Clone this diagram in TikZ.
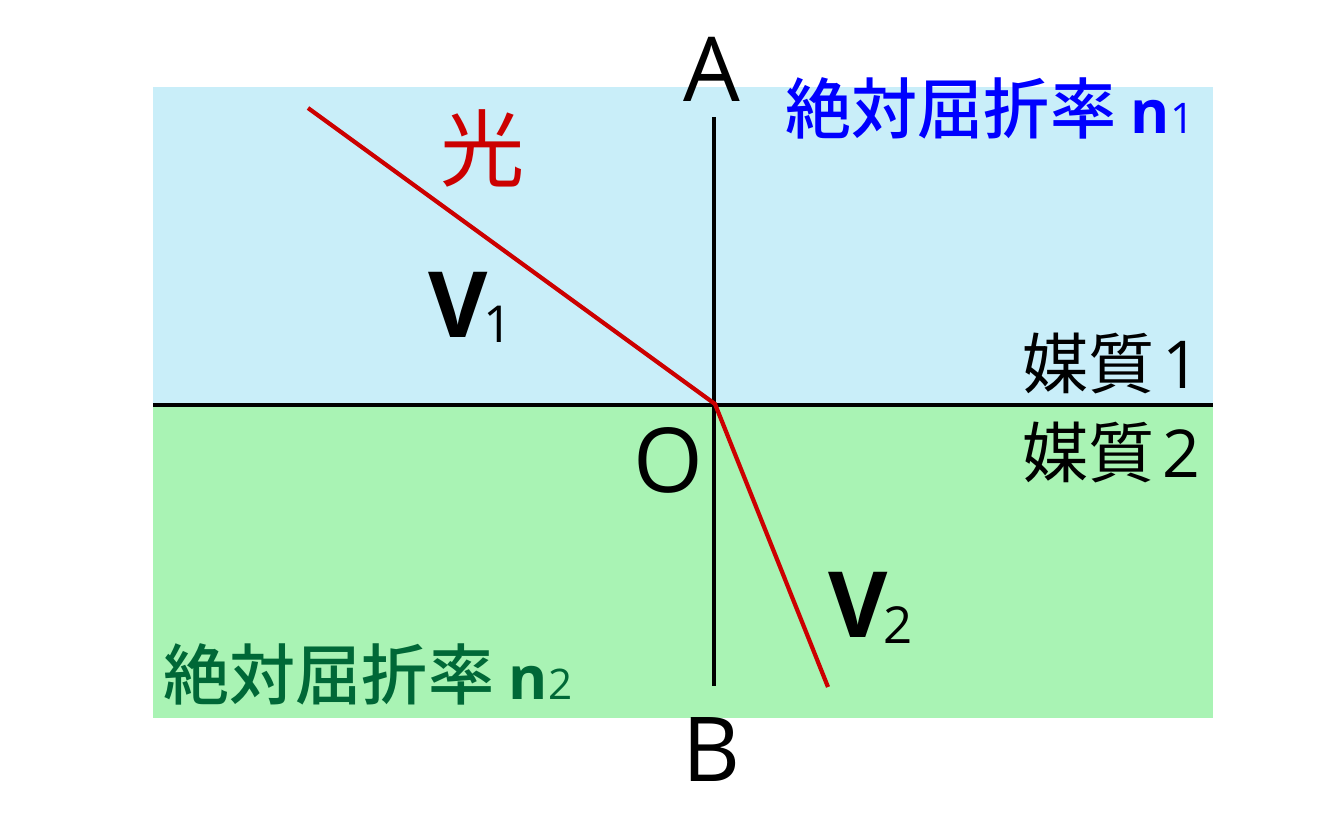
\documentclass[tikz,border=0pt]{standalone}
\usepackage{fontspec}
\setmainfont{Open Sans}
\newfontfamily\cjk{Noto Sans CJK JP}
\newfontfamily\cjkmed{Noto Sans CJK JP Medium}
\usetikzlibrary{positioning}

\definecolor{upperbg}{HTML}{C9EEF9}
\definecolor{lowerbg}{HTML}{A9F3B4}
\definecolor{lightred}{HTML}{CC0000}
\definecolor{indexblue}{HTML}{0000FF}
\definecolor{indexgreen}{HTML}{006837}

% small index after a letter
\newcommand{\lowidx}[2]{\kern-0.05cm\raisebox{#2}{\mdseries\fontsize{14.5}{14.5}\selectfont #1}}
\newcommand{\nidx}[1]{{\rmfamily\bfseries\fontsize{17}{17}\selectfont n}{\rmfamily\fontsize{12}{12}\selectfont #1}}

\tikzset{
  axis/.style={line width=1.2pt, black},
  ray/.style={line width=1.2pt, lightred},
  letter/.style={font=\fontsize{25.5}{25.5}\selectfont, inner sep=0pt},
  medium/.style={font=\cjk\fontsize{18.8}{18.8}\selectfont, inner sep=0pt, anchor=base west},
  index/.style={font=\cjkmed\fontsize{18.8}{18.8}\selectfont, inner sep=0pt, anchor=base west},
  speed/.style={font=\fontsize{26}{26}\selectfont\bfseries, inner sep=0pt, anchor=base west}
}

\begin{document}
\begin{tikzpicture}
    \useasboundingbox (0, 0) rectangle (13.33, 8.33);

    % Two media
    \fill[upperbg] (1.53, 4.28) rectangle (12.13, 7.46);
    \fill[lowerbg] (1.53, 1.15) rectangle (12.13, 4.28);

    % Points
    \coordinate (O) at (7.15, 4.29);
    \coordinate (left) at (1.53, 4.28);
    \coordinate (right) at (12.13, 4.28);
    \coordinate (top) at (7.14, 7.16);
    \coordinate (bottom) at (7.14, 1.47);
    \coordinate (source) at (3.08, 7.25);
    \coordinate (exit) at (8.28, 1.46);

    % Boundary and normal
    \draw[axis] (left) -- (right);
    \draw[axis] (top) -- (bottom);

    % Light ray
    \draw[ray] (source) -- (O) -- (exit);

    % Labels
    \node[letter] (A) at (7.12, 7.64) {A};
    \node[letter] (B) at (7.12, 0.83) {B};
    \node[letter] (Olabel) at (6.68, 3.73) {O};
    \node[font=\cjk\fontsize{24}{24}\selectfont, text=lightred, inner sep=0pt] (light) at (4.83, 6.85) {光};
    \node[speed] (v1) at (4.28, 4.96) {V\lowidx{1}{-0.05cm}};
    \node[speed] (v2) at (8.28, 1.96) {V\lowidx{2}{-0.06cm}};
    \node[medium] (m1) at (10.22, 4.45) {媒質\kern0.08cm{\rmfamily 1}};
    \node[medium] (m2) at (10.22, 3.56) {媒質\kern0.08cm{\rmfamily 2}};
    \node[index, text=indexblue] (n1) at (7.85, 7.00) {絶対屈折率 \nidx{1}};
    \node[index, text=indexgreen] (n2) at (1.63, 1.34) {絶対屈折率 \nidx{2}};
\end{tikzpicture}
\end{document}
